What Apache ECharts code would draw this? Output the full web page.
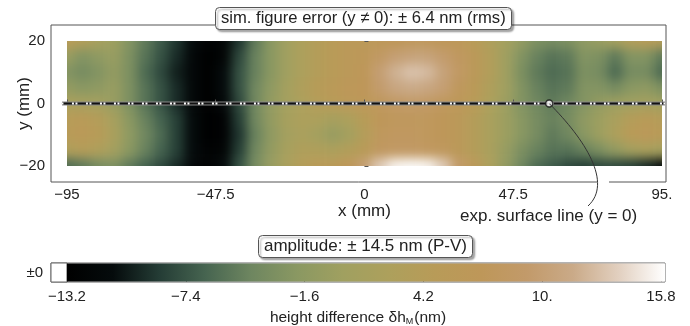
<!DOCTYPE html>
<html>
<head>
<meta charset="utf-8">
<script src="https://cdn.jsdelivr.net/npm/echarts@6/dist/echarts.min.js"></script>
<style>
  html, body { margin: 0; padding: 0; background: #fff; }
  #wrap { position: relative; width: 690px; height: 326px; }
  /* the field layer is softened and clipped to the sampled area */
  #clip { position: absolute; left: 67px; top: 41px; width: 595px; height: 125px; overflow: hidden; }
  #heat { position: absolute; left: -67px; top: -41px; width: 690px; height: 326px; filter: blur(5.5px); }
  #chart { position: absolute; left: 0; top: 0; width: 690px; height: 326px; }
</style>
</head>
<body>
<div id="wrap">
  <div id="clip"><div id="heat"></div></div>
  <div id="chart"></div>
</div>
<script>
// 采样位置 (mm)
const xCols = [-95, -90, -85, -80, -75, -70, -65, -60, -55, -50, -45, -40, -35, -30, -25, -20, -15, -10, -5, 0,
               5, 10, 15, 20, 25, 30, 35, 40, 45, 50, 55, 60, 65, 70, 75, 80, 85, 90, 95];
const yRows = [20, 15, 10, 5, 0, -5, -10, -15, -20];

// height difference (nm), one row per y value
const hY20  = [5, 3.5, 1.5, 0, -2.5, -5, -7, -9, -11, -12.5, -12, -9, -5, -2, 0.5, 2.5, 4, 5, 6, 6,
               6.5, 7, 7.5, 7.5, 7, 6.5, 5, 3, 1, -1, -3, -3.5, -3, -1.5, -0.5, 1, 3.5, 4.5, 4];
const hY15  = [-0.5, -2.5, -1.5, -0.5, -3, -5.5, -7.5, -9.5, -11.5, -13, -12, -8, -4.5, -2, 0.5, 2.5, 4, 5, 6, 6.5,
               8.5, 10, 10.5, 10.5, 9.5, 8, 6, 3.5, 0.5, -2.5, -4.5, -5.5, -5, -2.5, -3, -5, -2.5, -2.5, -5];
const hY10  = [-2.5, -3.5, -2.5, -1, -3, -6, -8, -10, -11.5, -13, -11, -7.5, -4.5, -2, 0.5, 2.5, 4, 5, 6, 7,
               10, 12, 13, 12.5, 10.5, 8.5, 6, 3.5, 0.5, -3, -5, -6, -5.5, -3, -3.5, -6, -3.5, -3.5, -6];
const hY5   = [-1, -2, -1.5, -0.5, -3, -5.5, -7.5, -9.5, -11.5, -13, -11, -7.5, -4, -1.5, 1, 3, 4.5, 5.5, 6.5, 7,
               9.5, 11, 11.5, 11, 10, 7.5, 5.5, 3, 0.5, -2.5, -4.5, -5.5, -5, -2.5, -2.5, -3.5, -2, -1.5, -3];
const hY0   = [2, 1.5, 1, -0.5, -3, -5.5, -7.5, -9.5, -11.5, -13, -11.5, -8, -4, -1, 1, 2.5, 4, 5, 6, 6.5,
               7.5, 8.5, 9, 8.5, 7.5, 6.5, 5, 2.5, 0, -2.5, -4, -5, -4, -2.5, -1, 0, 0.5, 1, 0.5];
const hYm5  = [4.5, 5, 4, 1.5, -2, -4.5, -6.5, -8.5, -11, -13, -12.5, -8.5, -4, -1, 1.5, 2.5, 2.5, 1.5, 2.5, 4.5,
               7, 7.5, 7.5, 7.5, 7, 6, 4, 2, 0, -2, -3.5, -4.5, -3.5, -1.5, 0, 2, 4, 5, 4];
const hYm10 = [5, 5.5, 4.5, 2, -1.5, -4, -6, -8.5, -11, -13, -12.5, -9, -4.5, -1.5, 1, 2, 1, -0.5, 1, 4,
               7.5, 8, 8, 7.5, 7, 6, 4, 2, 0, -2, -3.5, -5, -4, -2, 0, 2.5, 5, 6, 5];
const hYm15 = [3, 4, 3, 1, -2, -4.5, -6.5, -8.5, -11, -12.5, -12, -8.5, -4, -1, 1.5, 3, 3, 2.5, 3.5, 5,
               8, 8.5, 8.5, 8, 7.5, 6, 4, 2, -0.5, -3, -4.5, -5.5, -5.5, -4.5, -3, -1, 1, 2, 1];
const hYm20 = [-6, -5, -3.5, -3, -5, -6.5, -8, -9.5, -11.5, -12.5, -11, -7.5, -3.5, -0.5, 2, 4, 5, 5.5, 7, 10,
               13.5, 15.5, 15.8, 15.5, 13.5, 9, 6, 2.5, -1, -4, -6, -7, -8, -8.5, -8, -8, -8.5, -9.5, -11];
const heightRows = [hY20, hY15, hY10, hY5, hY0, hYm5, hYm10, hYm15, hYm20];

// tick labels
const xTicks = [-95, -47.5, 0, 47.5, 95];
const xTickText = ['\u221295', '\u221247.5', '0', '47.5', '95.'];
const yTicks = [-20, 0, 20];
const yTickText = ['\u221220', '0', '20'];
const barTicks = [-13.2, -7.4, -1.6, 4.2, 10, 15.8];
const barTickText = ['\u221213.2', '\u22127.4', '\u22121.6', '4.2', '10.', '15.8'];

// surface line (y = 0) and the marked point on it
const surfaceLine = [[-96.6, 0], [96, 0]];
const markedPoint = [[59, 0]];

// colour scale range and stops
const scaleMin = -13.2;
const scaleMax = 16.0;
const zeroCell = [-13.98, -13.2];
const terrainColors = ['#000000', '#050b0c', '#243c35', '#466450', '#6e8660', '#8a9862', '#a0a060',
                       '#ada05c', '#b89b58', '#be9759', '#c29a6a', '#caaa88', '#e2d0c0', '#ffffff'];

const FONT = '"Liberation Sans", Arial, sans-serif';
const INK = '#222';
const FRAME = '#555';

// data for the field: [x, y, value]
const cells = [];
yRows.forEach((y, r) => {
    xCols.forEach((x, c) => {
        cells.push([x, y, heightRows[r][c]]);
    });
});

const mainGrid = { left: 51, top: 25, width: 615, height: 157, outerBoundsMode: 'none', containLabel: false };
const xRange = { min: -100.1, max: 96.3 };
const yRange = { min: -25.12, max: 25.12 };

// ---------- field layer ----------
const heat = echarts.init(document.getElementById('heat'), null, { renderer: 'canvas' });
heat.setOption({
    animation: false,
    grid: mainGrid,
    xAxis: { type: 'value', min: xRange.min, max: xRange.max, show: false },
    yAxis: { type: 'value', min: yRange.min, max: yRange.max, show: false },
    visualMap: {
        show: false, type: 'continuous', dimension: 2, seriesIndex: 0,
        min: scaleMin, max: scaleMax, inRange: { color: terrainColors }
    },
    series: [{
        type: 'custom',
        data: cells,
        renderItem: function (params, api) {
            const x = api.value(0), y = api.value(1);
            let x0 = x - 2.5, x1 = x + 2.5, y0 = y - 2.5, y1 = y + 2.5;
            // edge cells are stretched outwards so the softening does not fade at the border
            if (x <= -95) x0 = -106;
            if (x >= 95) x1 = 106;
            if (y >= 20) y1 = 30;
            if (y <= -20) y0 = -30;
            const a = api.coord([x0, y1]);
            const b = api.coord([x1, y0]);
            return {
                type: 'rect',
                shape: { x: a[0], y: a[1], width: b[0] - a[0] + 0.6, height: b[1] - a[1] + 0.6 },
                style: { fill: api.visual('color') }
            };
        }
    }]
});

// ---------- axes, labels, colour bar ----------
const chart = echarts.init(document.getElementById('chart'), null, { renderer: 'canvas' });

function boxTitle(text, left, top, size) {
    return {
        text: text, left: left, top: top,
        backgroundColor: '#fff',
        borderColor: FRAME,
        borderWidth: 1,
        borderRadius: 4,
        padding: [2, 6, 2, 6],
        shadowColor: 'rgba(0,0,0,0.35)',
        shadowBlur: 2,
        shadowOffsetX: 2,
        shadowOffsetY: 2,
        textStyle: { fontFamily: FONT, fontSize: size, fontWeight: 'normal', color: INK, lineHeight: size + 2 }
    };
}

chart.setOption({
    animation: false,
    textStyle: { fontFamily: FONT, color: INK },
    title: [
        boxTitle('sim. figure error (y \u2260 0): \u00b1 6.4 nm (rms)', 215, 7, 16.6),
        boxTitle('amplitude: \u00b1 14.5 nm (P-V)', 258, 235, 17)
    ],
    grid: [
        Object.assign({ show: true, borderColor: FRAME, borderWidth: 1, backgroundColor: 'transparent' }, mainGrid),
        {
            left: 51, top: 263, width: 614, height: 19, outerBoundsMode: 'none', containLabel: false,
            show: true, borderColor: '#666', borderWidth: 1, backgroundColor: 'transparent'
        }
    ],
    xAxis: [{
        gridIndex: 0, type: 'value', min: xRange.min, max: xRange.max,
        axisLine: { show: false },
        splitLine: { show: false },
        axisTick: { show: true, inside: true, length: 4, customValues: xTicks, lineStyle: { color: FRAME } },
        axisLabel: {
            customValues: xTicks, margin: 5, fontSize: 15, color: INK, fontFamily: FONT,
            formatter: v => xTickText[xTicks.indexOf(v)]
        },
        name: 'x (mm)', nameLocation: 'middle', nameGap: 15,
        nameTextStyle: { fontSize: 17, color: INK, fontFamily: FONT, padding: [0, 0, 0, 12] }
    }, {
        gridIndex: 1, type: 'value', min: zeroCell[0], max: scaleMax,
        axisLine: { show: false },
        splitLine: { show: false },
        axisTick: { show: true, inside: true, length: 2, customValues: barTicks, lineStyle: { color: '#777' } },
        axisLabel: {
            customValues: barTicks, margin: 7, fontSize: 15, color: INK, fontFamily: FONT,
            formatter: v => barTickText[barTicks.indexOf(v)]
        },
        name: '{a|height difference \u03b4h}{s|M}{a|(nm)}', nameLocation: 'middle', nameGap: 26,
        nameTextStyle: {
            fontFamily: FONT,
            rich: {
                a: { fontSize: 15.5, color: INK, fontFamily: FONT, lineHeight: 18, verticalAlign: 'bottom' },
                s: { fontSize: 9, color: INK, fontFamily: FONT, lineHeight: 12, verticalAlign: 'bottom', padding: [0, 1, 0, 0] }
            }
        }
    }],
    yAxis: [{
        gridIndex: 0, type: 'value', min: yRange.min, max: yRange.max,
        axisLine: { show: false },
        splitLine: { show: false },
        axisTick: { show: true, inside: true, length: 4, customValues: yTicks, lineStyle: { color: FRAME } },
        axisLabel: {
            customValues: yTicks, margin: 6, fontSize: 15, color: INK, fontFamily: FONT,
            formatter: v => yTickText[yTicks.indexOf(v)]
        },
        name: 'y (mm)', nameLocation: 'middle', nameGap: 18, nameRotate: 90, nameMoveOverlap: false,
        nameTextStyle: { fontSize: 17, color: INK, fontFamily: FONT }
    }, {
        gridIndex: 1, type: 'category', data: ['\u00b10'],
        axisLine: { show: false }, axisTick: { show: false }, splitLine: { show: false },
        axisLabel: { margin: 8, fontSize: 15, color: INK, fontFamily: FONT }
    }],
    series: [{
        type: 'line', xAxisIndex: 0, yAxisIndex: 0, data: surfaceLine, symbol: 'none', silent: true,
        lineStyle: { color: '#8a8a8a', width: 4 }, z: 3
    }, {
        type: 'line', xAxisIndex: 0, yAxisIndex: 0, data: surfaceLine, symbol: 'none', silent: true,
        lineStyle: { color: '#111', width: 2 }, z: 4
    }, {
        type: 'line', xAxisIndex: 0, yAxisIndex: 0, data: surfaceLine, symbol: 'none', silent: true,
        lineStyle: { color: '#fff', width: 2, type: [2, 1.5, 2, 8.5], dashOffset: 4 }, z: 5
    }, {
        type: 'scatter', xAxisIndex: 0, yAxisIndex: 0, data: markedPoint, symbol: 'circle', symbolSize: 7,
        itemStyle: { color: '#fff', borderColor: '#111', borderWidth: 1.5 }, z: 8
    }, {
        // white ±0 cell of the colour bar
        type: 'custom', xAxisIndex: 1, yAxisIndex: 1, data: [[zeroCell[0], zeroCell[1]]],
        renderItem: function (params, api) {
            const a = api.coord([api.value(0), 0]);
            const b = api.coord([api.value(1), 0]);
            const h = api.size([0, 1])[1];
            return {
                type: 'rect',
                shape: { x: a[0], y: a[1] - h / 2, width: b[0] - a[0], height: h },
                style: { fill: '#fff', stroke: '#666', lineWidth: 1 }
            };
        }
    }, {
        // gradient of the colour bar
        type: 'custom', xAxisIndex: 1, yAxisIndex: 1, data: [[scaleMin, scaleMax]],
        renderItem: function (params, api) {
            const a = api.coord([api.value(0), 0]);
            const b = api.coord([api.value(1), 0]);
            const h = api.size([0, 1])[1];
            const stops = terrainColors.map((c, i) => ({ offset: i / (terrainColors.length - 1), color: c }));
            return {
                type: 'rect',
                shape: { x: a[0], y: a[1] - h / 2 + 0.5, width: b[0] - a[0], height: h - 1 },
                style: { fill: new echarts.graphic.LinearGradient(0, 0, 1, 0, stops) }
            };
        }
    }]
});

// 标注曲线：从标记点引到说明文字
const pt = chart.convertToPixel({ gridIndex: 0 }, markedPoint[0]);
chart.setOption({
    graphic: [{
        type: 'rect', z: 10, silent: true,
        shape: { x: 597, y: 179, width: 12, height: 6 },
        style: { fill: '#fff' }
    }, {
        type: 'bezierCurve', z: 11, silent: true,
        shape: {
            x1: pt[0], y1: pt[1],
            cpx1: pt[0] + 36, cpy1: pt[1] + 36,
            cpx2: 613, cpy2: 183,
            x2: 588, y2: 206
        },
        style: { stroke: '#333', lineWidth: 1, fill: null }
    }, {
        type: 'text', z: 11, silent: true,
        left: 460, top: 208,
        style: { text: 'exp. surface line (y = 0)', font: '17px ' + FONT, fill: INK }
    }]
});
</script>
</body>
</html>
